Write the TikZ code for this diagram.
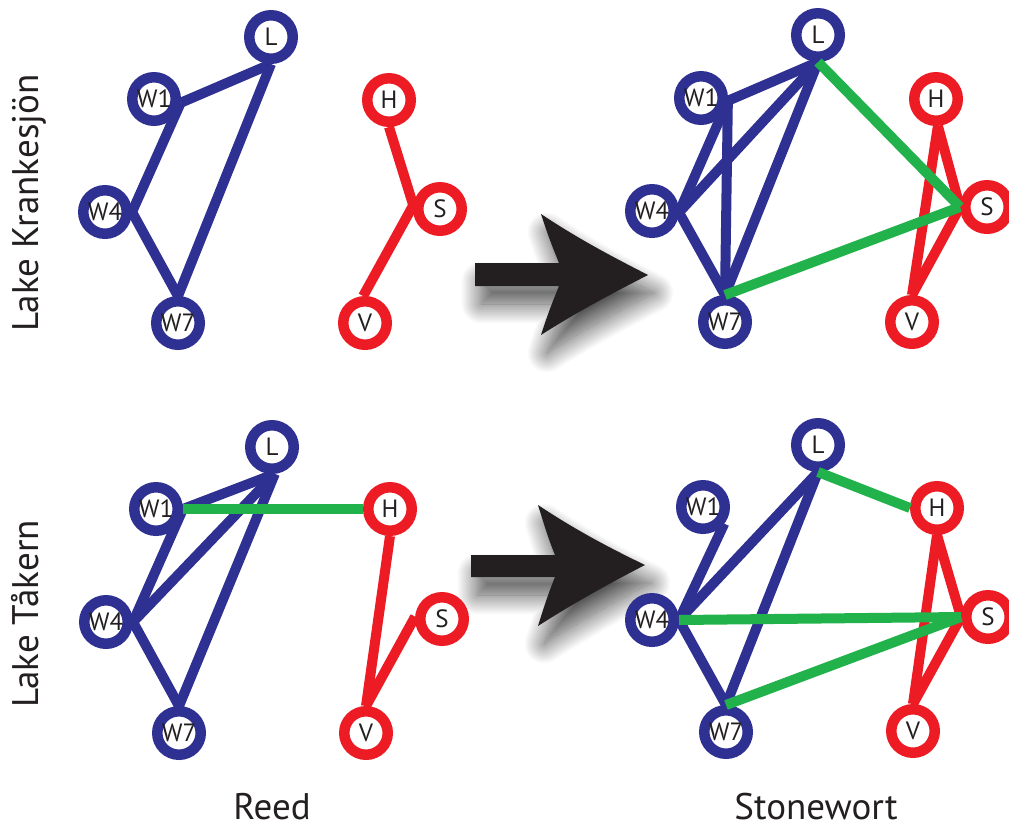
\documentclass[tikz,border=0pt]{standalone}
\usepackage{fontspec}
\setmainfont{PT Sans}
\usetikzlibrary{shadows.blur}
\definecolor{netblue}{HTML}{2E3192}
\definecolor{netred}{HTML}{ED1C24}
\definecolor{netgreen}{HTML}{22B24C}
\definecolor{ink}{HTML}{231F20}
\tikzset{
  species/.style={circle, line width=10.5pt, fill=white, minimum size=43.5pt,
    inner sep=0pt, outer sep=5.25pt, text=ink, font=\fontsize{25}{25}\selectfont},
  bnode/.style={species, draw=netblue},
  rnode/.style={species, draw=netred},
  link/.style={line width=10pt},
  blink/.style={link, draw=netblue},
  rlink/.style={link, draw=netred},
  glink/.style={link, draw=netgreen},
  caption/.style={text=ink, font=\fontsize{37}{37}\selectfont, inner sep=0pt},
  bigarrow/.style={fill=ink, blur shadow={shadow xshift=6pt, shadow yshift=-18pt,
    shadow blur radius=20pt, shadow opacity=70, shadow blur steps=30}},
}
\begin{document}
\begin{tikzpicture}[x=1pt, y=-1pt]
\useasboundingbox (0,0) rectangle (1009,828);

% ---- shift arrows between the two states
\path[bigarrow] (475,263) -- (559,263) .. controls (552,246) and (546,230) .. (541,214)
  .. controls (580,240) and (615,258) .. (648,275)
  .. controls (615,292) and (580,310) .. (541,335)
  .. controls (546,319) and (552,303) .. (559,286) -- (475,286) -- cycle;
\path[bigarrow] (471,555) -- (555,555) .. controls (548,538) and (543,521) .. (538,505)
  .. controls (577,531) and (612,549) .. (645,565)
  .. controls (612,582) and (577,601) .. (538,626)
  .. controls (543,610) and (548,594) .. (555,577) -- (471,577) -- cycle;

% ---- Lake Krankesjön, reed
\node[bnode] (kL)  at (271,37)  {L};
\node[bnode] (kW1) at (154,99)  {W1};
\node[bnode] (kW4) at (105,212) {W4};
\node[bnode] (kW7) at (178,323) {W7};
\node[rnode] (kH)  at (389,100) {H};
\node[rnode] (kS)  at (440,209) {S};
\node[rnode] (kV)  at (365,323) {V};
\draw[blink] (kW1.-8) -- (kL.south);
\draw[blink] (kW1.-8) -- (kW4.east);
\draw[blink] (kW4.east) -- (kW7.north);
\draw[blink] (kW7.north) -- (kL.south);
\draw[rlink] (kH.south) -- (kS.172);
\draw[rlink] (kS.172) -- (kV.94);

% ---- Lake Krankesjön, stonewort
\node[bnode] (ksL)  at (818,35)  {L};
\node[bnode] (ksW1) at (701,98)  {W1};
\node[bnode] (ksW4) at (652,211) {W4};
\node[bnode] (ksW7) at (725,322) {W7};
\node[rnode] (ksH)  at (936,99)  {H};
\node[rnode] (ksS)  at (987,207) {S};
\node[rnode] (ksV)  at (912,322) {V};
\draw[blink] (ksW1.-6) -- (ksL.south);
\draw[blink] (ksW1.-6) -- (ksW7.north);
\draw[blink] (ksW1.-6) -- (ksW4.-3);
\draw[blink] (ksW4.-3) -- (ksL.south);
\draw[blink] (ksW4.-3) -- (ksW7.north);
\draw[blink] (ksW7.north) -- (ksL.south);
\draw[rlink] (ksH.-86) -- (ksS.west);
\draw[rlink] (ksH.-86) -- (ksV.north);
\draw[rlink] (ksS.west) -- (ksV.north);
\draw[glink] (ksL.south) -- (ksS.west);
\draw[glink] (ksW7.north) -- (ksS.west);

% ---- Lake Tåkern, reed
\node[bnode] (tL)  at (272,447) {L};
\node[bnode] (tW1) at (156,509) {W1};
\node[bnode] (tW4) at (106,622) {W4};
\node[bnode] (tW7) at (179,733) {W7};
\node[rnode] (tH)  at (390,509) {H};
\node[rnode] (tS)  at (442,619) {S};
\node[rnode] (tV)  at (366,733) {V};
\draw[blink] (tW1.east) -- (tL.-84);
\draw[blink] (tW1.east) -- (tW4.east);
\draw[blink] (tW4.east) -- (tL.-84);
\draw[blink] (tW4.east) -- (tW7.north);
\draw[blink] (tW7.north) -- (tL.-84);
\draw[rlink] (tH.south) -- (tV.north);
\draw[rlink] (tS.175) -- (tV.north);
\draw[glink] (tW1.east) -- (tH.west);

% ---- Lake Tåkern, stonewort
\node[bnode] (tsL)  at (818,445) {L};
\node[bnode] (tsW1) at (703,507) {W1};
\node[bnode] (tsW4) at (652,620) {W4};
\node[bnode] (tsW7) at (726,732) {W7};
\node[rnode] (tsH)  at (937,508) {H};
\node[rnode] (tsS)  at (988,617) {S};
\node[rnode] (tsV)  at (913,731) {V};
\draw[blink] (tsW1.-38) -- (tsW4.east);
\draw[blink] (tsW4.east) -- (tsL.south);
\draw[blink] (tsW4.east) -- (tsW7.north);
\draw[blink] (tsW7.north) -- (tsL.south);
\draw[rlink] (tsH.south) -- (tsS.west);
\draw[rlink] (tsH.south) -- (tsV.north);
\draw[rlink] (tsS.west) -- (tsV.north);
\draw[glink] (tsL.south) -- (tsH.west);
\draw[glink] (tsW4.east) -- (tsS.west);
\draw[glink] (tsW7.north) -- (tsS.west);

% ---- row and column captions
\node[caption, rotate=90, anchor=base] (rowK) at (38,203) {Lake Krankesjön};
\node[caption, rotate=90, anchor=base] (rowT) at (38,614) {Lake Tåkern};
\node[caption, anchor=base] (colR) at (272,819) {Reed};
\node[caption, anchor=base] (colS) at (816,819) {Stonewort};
\end{tikzpicture}
\end{document}
